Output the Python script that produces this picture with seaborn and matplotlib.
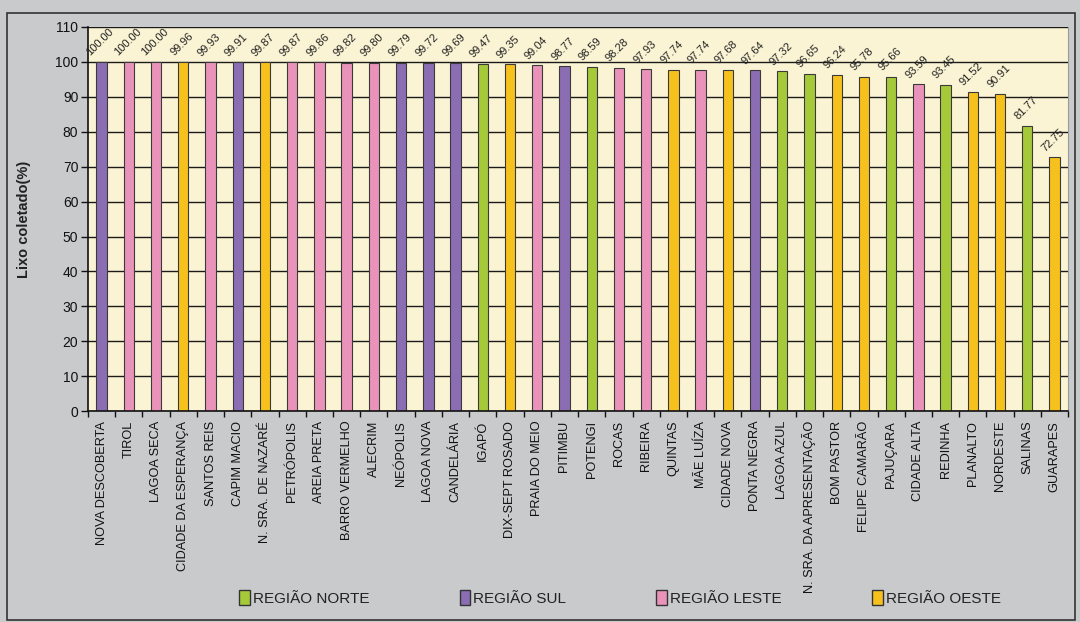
import matplotlib
matplotlib.use("Agg")
import matplotlib.pyplot as plt
from matplotlib.patches import Patch, Rectangle
from matplotlib.ticker import FixedLocator
import seaborn as sns
import pandas as pd

# Bairros, percentual de lixo coletado e região administrativa
bairros = [
    "NOVA DESCOBERTA", "TIROL", "LAGOA SECA", "CIDADE DA ESPERANÇA", "SANTOS REIS",
    "CAPIM MACIO", "N. SRA. DE NAZARÉ", "PETRÓPOLIS", "AREIA PRETA", "BARRO VERMELHO",
    "ALECRIM", "NEÓPOLIS", "LAGOA NOVA", "CANDELÁRIA", "IGAPÓ", "DIX-SEPT ROSADO",
    "PRAIA DO MEIO", "PITIMBU", "POTENGI", "ROCAS", "RIBEIRA", "QUINTAS", "MÃE LUÍZA",
    "CIDADE NOVA", "PONTA NEGRA", "LAGOA AZUL", "N. SRA. DA APRESENTAÇÃO", "BOM PASTOR",
    "FELIPE CAMARÃO", "PAJUÇARA", "CIDADE ALTA", "REDINHA", "PLANALTO", "NORDESTE",
    "SALINAS", "GUARAPES",
]
lixo_coletado = [
    100.00, 100.00, 100.00, 99.96, 99.93, 99.91, 99.87, 99.87, 99.86, 99.82,
    99.80, 99.79, 99.72, 99.69, 99.47, 99.35, 99.04, 98.77, 98.59, 98.28,
    97.93, 97.74, 97.74, 97.68, 97.64, 97.32, 96.65, 96.24, 95.78, 95.66,
    93.59, 93.45, 91.52, 90.91, 81.77, 72.75,
]
regioes = [
    "SUL", "LESTE", "LESTE", "OESTE", "LESTE", "SUL", "OESTE", "LESTE", "LESTE", "LESTE",
    "LESTE", "SUL", "SUL", "SUL", "NORTE", "OESTE", "LESTE", "SUL", "NORTE", "LESTE",
    "LESTE", "OESTE", "LESTE", "OESTE", "SUL", "NORTE", "NORTE", "OESTE", "OESTE", "NORTE",
    "LESTE", "NORTE", "OESTE", "OESTE", "NORTE", "OESTE",
]
ordem_regioes = ["NORTE", "SUL", "LESTE", "OESTE"]
rotulos_legenda = ["REGIÃO NORTE", "REGIÃO SUL", "REGIÃO LESTE", "REGIÃO OESTE"]
cores = {"NORTE": "#a6c93a", "SUL": "#8b6db3", "LESTE": "#ea93ba", "OESTE": "#f7c11d"}
ticks_y = list(range(0, 111, 10))

df = pd.DataFrame({"bairro": bairros, "pct": lixo_coletado, "regiao": regioes})

sns.set_theme(style="white")
plt.rcParams["font.family"] = ["Liberation Sans", "DejaVu Sans"]

fundo = "#c9cacc"
fig = plt.figure(figsize=(10.8, 6.22), dpi=100, facecolor=fundo)
ax = fig.add_axes([0.0815, 0.339, 0.9075, 0.6176])
ax.set_facecolor("#fbf4d4")

# linhas de grade atrás das barras
ax.set_axisbelow(True)
ax.yaxis.grid(True, color="#1a1a1a", linewidth=1.0)
ax.xaxis.grid(False)

sns.barplot(
    data=df, x="bairro", y="pct", hue="regiao", order=bairros,
    hue_order=ordem_regioes, palette=cores, dodge=False, width=0.38,
    saturation=1, edgecolor="#3a3a3a", linewidth=0.8, legend=False, ax=ax,
)

n = len(bairros)
ax.set_xlim(-0.5, n - 0.5)
ax.set_ylim(0, 110)
ax.set_yticks(ticks_y)
ax.set_yticklabels([str(t) for t in ticks_y], fontsize=10, color="#111111")
ax.set_xticks(range(n))
ax.set_xticklabels(bairros, rotation=90, fontsize=9.2, color="#111111")
ax.xaxis.set_minor_locator(FixedLocator([i - 0.5 for i in range(n + 1)]))
ax.tick_params(axis="x", which="major", length=0, pad=7)
ax.tick_params(axis="x", which="minor", length=4, width=1, color="#111111", direction="out", bottom=True)
ax.tick_params(axis="y", length=5, width=1, color="#111111", direction="out", left=True, pad=2)

ax.set_xlabel("")
ax.set_ylabel("Lixo coletado(%)", fontsize=10.5, fontweight="bold", color="#222222")
ax.yaxis.set_label_coords(-0.058, 0.5)

for s in ["left", "bottom"]:
    ax.spines[s].set_color("#111111")
    ax.spines[s].set_linewidth(1.2)
ax.spines["top"].set_visible(False)
ax.spines["right"].set_color("#9a9a9a")
ax.spines["right"].set_linewidth(0.8)

# rótulos de valor inclinados sobre as barras
for i, v in enumerate(lixo_coletado):
    ax.annotate(f"{v:.2f}", (i, v), xytext=(-1, 3), textcoords="offset points",
                ha="center", va="bottom", rotation=45, fontsize=8, color="#222222")

# legenda na parte inferior
handles = [Patch(facecolor=cores[r], edgecolor="#333333", linewidth=1.0) for r in ordem_regioes]
leg = fig.legend(handles, rotulos_legenda, loc="center", bbox_to_anchor=(0.574, 0.039),
                 ncol=4, frameon=False, fontsize=11, handlelength=0.7, handleheight=1.1,
                 handletextpad=0.2, columnspacing=5.9)
for t in leg.get_texts():
    t.set_color("#222222")

# moldura externa
fig.patches.append(Rectangle((0.0065, 0.003), 0.989, 0.976, transform=fig.transFigure,
                             fill=False, edgecolor="#333333", linewidth=1.2))

fig.savefig("out.png", dpi=100, facecolor=fundo)
